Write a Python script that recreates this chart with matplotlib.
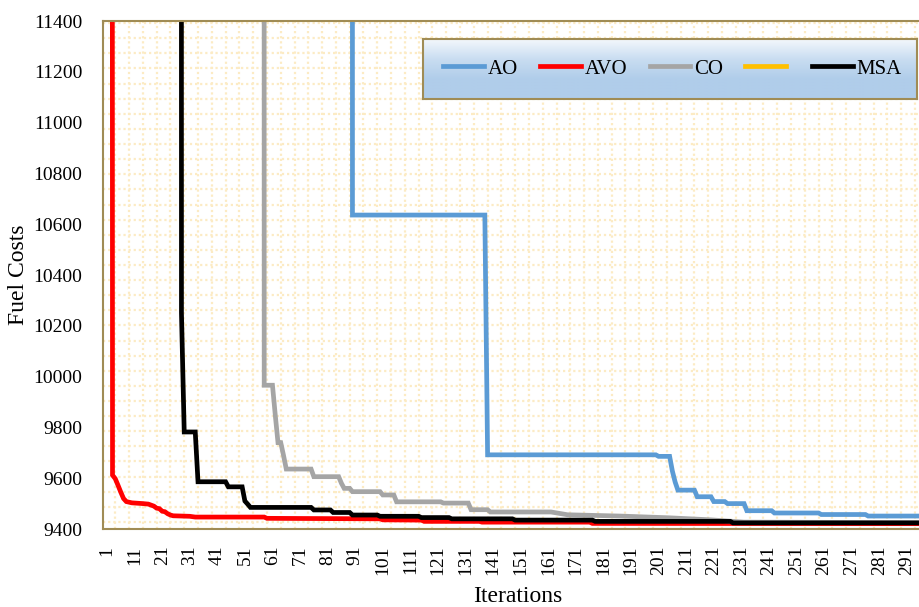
import matplotlib
matplotlib.use("Agg")
import matplotlib.pyplot as plt
import numpy as np
from matplotlib.colors import LinearSegmentedColormap

# corner points (iteration, fuel cost)
ao_it = [1, 89, 90, 138, 139, 200, 201, 205, 206, 207, 208, 214, 215, 220, 221, 225, 226, 232, 233, 242, 243, 259, 260, 276, 277, 300]
ao_val = [90000, 90000, 10636, 10636, 9692, 9692, 9686, 9686, 9628, 9585, 9553, 9553, 9527, 9527, 9508, 9508, 9500, 9500, 9472, 9472, 9463, 9463, 9457, 9457, 9451, 9451]

avo_it = [1, 2, 3, 4, 5, 6, 7, 8, 10, 14, 16, 18, 19, 20, 21, 22, 23, 24, 25, 31, 33, 58, 59, 100, 101, 115, 116, 136, 137, 176, 177, 300]
avo_val = [60000, 40000, 9612, 9598, 9572, 9545, 9520, 9508, 9503, 9500, 9498, 9490, 9482, 9480, 9470, 9468, 9460, 9455, 9452, 9450, 9447, 9447, 9442, 9440, 9436, 9435, 9430, 9430, 9427, 9427, 9422, 9421]

co_it = [1, 57, 58, 61, 62, 63, 64, 65, 66, 75, 76, 85, 86, 87, 89, 90, 100, 101, 105, 106, 122, 123, 132, 133, 139, 140, 162, 168, 187, 205, 220, 232, 300]
co_val = [90000, 90000, 9966, 9966, 9850, 9740, 9740, 9690, 9636, 9636, 9606, 9606, 9580, 9560, 9560, 9547, 9547, 9534, 9534, 9507, 9507, 9502, 9502, 9476, 9476, 9467, 9467, 9456, 9451, 9444, 9436, 9427, 9425]

msa_it = [1, 27, 28, 29, 33, 34, 44, 45, 50, 51, 52, 53, 75, 76, 82, 83, 89, 90, 99, 100, 114, 115, 125, 126, 148, 149, 177, 178, 227, 228, 300]
msa_val = [90000, 90000, 10250, 9782, 9782, 9586, 9586, 9566, 9566, 9510, 9498, 9485, 9485, 9475, 9475, 9465, 9465, 9455, 9455, 9450, 9450, 9445, 9445, 9440, 9440, 9435, 9435, 9430, 9430, 9424, 9424]

series_names = ["AO", "AVO", "CO", "", "MSA"]
series_colors = ["#5B9BD5", "#FF0000", "#A5A5A5", "#FFC000", "#000000"]

x_ticks = list(range(1, 300, 10))
y_ticks = list(range(9400, 11401, 200))

plt.rcParams["font.family"] = ["Liberation Serif", "DejaVu Serif"]

frame_col = "#A08C55"
dot_col = "#FCEBC4"

fig = plt.figure(figsize=(9.19, 6.07), dpi=100)
ax = fig.add_axes([103 / 919, 78 / 607, 830 / 919, 508 / 607])

# dotted pattern fill of the plot area
ax.set_xticks(np.arange(4, 301, 5), minor=True)
ax.set_yticks(np.arange(9428, 11400, 59.5), minor=True)
ax.grid(which="minor", color=dot_col, linestyle=(0, (1, 1.3)), linewidth=1.6)
ax.tick_params(which="minor", length=0)
ax.set_axisbelow(True)

data = [(ao_it, ao_val), (avo_it, avo_val), (co_it, co_val), ([], []), (msa_it, msa_val)]
handles = []
for (xs, ys), name, col in zip(data, series_names, series_colors):
    h, = ax.plot(xs, ys, color=col, lw=3.4, solid_joinstyle="miter", label=name)
    handles.append(h)

ax.set_xlim(-0.45, 300.5)
ax.set_ylim(9400, 11400)
ax.set_xticks(x_ticks)
ax.set_xticklabels([str(t) for t in x_ticks], rotation=90, fontsize=14)
ax.set_yticks(y_ticks)
ax.set_yticklabels([str(t) for t in y_ticks], fontsize=14)
ax.tick_params(which="major", length=0)
ax.tick_params(axis="y", pad=15)
ax.tick_params(axis="x", pad=12)

for side in ["left", "top", "bottom", "right"]:
    ax.spines[side].set_color(frame_col)
    ax.spines[side].set_linewidth(1.5)

ax.set_xlabel("Iterations", fontsize=17, labelpad=8)
ax.set_ylabel("Fuel Costs", fontsize=17, labelpad=3)

# legend box with gradient fill
lx0, lw_, ly0, lh = 423 / 919, 494 / 919, (607 - 99) / 607, 60 / 607
gax = fig.add_axes([lx0, ly0, lw_, lh], zorder=2)
cmap = LinearSegmentedColormap.from_list("leg", ["#F3F7FC", "#C9DDF1", "#B0CDEA", "#B0CDEA"])
grad = np.linspace(0, 1, 100).reshape(-1, 1)
gax.imshow(grad, aspect="auto", cmap=cmap, extent=[0, 1, 0, 1], origin="upper")
gax.set_xticks([])
gax.set_yticks([])
for s in gax.spines.values():
    s.set_color(frame_col)
    s.set_linewidth(1.5)

leg = fig.legend(handles, series_names, loc="center", ncol=5,
                 bbox_to_anchor=(lx0 + lw_ / 2 + 0.003, ly0 + lh / 2),
                 frameon=False, fontsize=15, handlelength=1.95, handletextpad=0.2,
                 columnspacing=1.05)
leg.set_zorder(5)
for line in leg.get_lines():
    line.set_linewidth(3.4)

fig.savefig("out.png", dpi=100)
